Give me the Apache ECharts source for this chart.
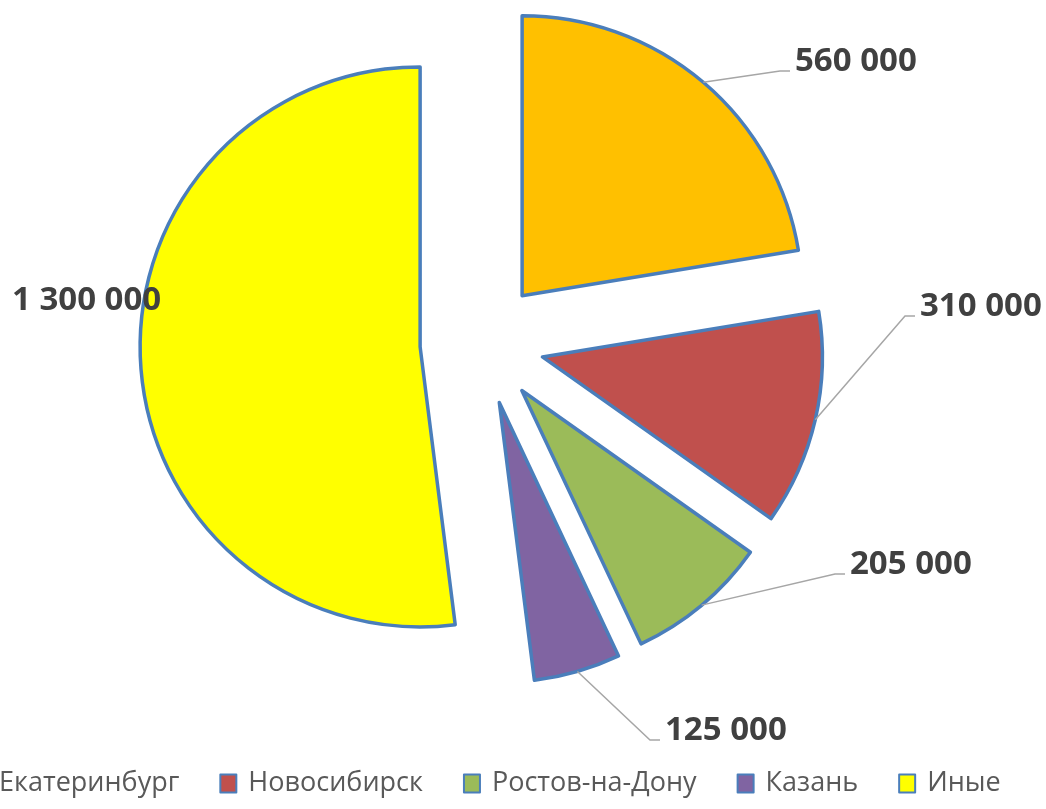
<!DOCTYPE html>
<html>
<head>
<meta charset="utf-8">
<script src="https://cdn.jsdelivr.net/npm/echarts@6.0.0/dist/echarts.min.js"></script>
<style>
html,body{margin:0;padding:0;background:#fff;}
#chart{width:1046px;height:809px;}
</style>
</head>
<body>
<div id="chart"></div>
<script>
const categories = ['Екатеринбург', 'Новосибирск', 'Ростов-на-Дону', 'Казань', 'Иные'];
const values = [560000, 310000, 205000, 125000, 1300000];
const colors = ['#FFC000', '#C0504D', '#9BBB59', '#8064A2', '#FFFF00'];

// layout settings
const pieCenter = [482, 343];
const pieRadius = 280;
const explode = 62;
// label anchor (text left x, text centre y) for each slice
const labelAnchors = [[795, 62], [920, 307], [850, 565], [665, 731], [12, 301]];

function fmt(v) {
  return String(v).replace(/\B(?=(\d{3})+(?!\d))/g, ' ');
}

const chart = echarts.init(document.getElementById('chart'), null, {renderer: 'canvas'});
chart.setOption({
  animation: false,
  backgroundColor: '#ffffff',
  color: colors,
  legend: {
    left: -35,
    top: 765,
    icon: 'rect',
    itemWidth: 16,
    itemHeight: 18,
    itemGap: 40,
    selectedMode: false,
    textStyle: {
      fontFamily: 'Open Sans',
      fontSize: 27,
      color: '#595959',
      padding: [0, 0, 0, 7]
    },
    data: categories
  },
  series: [{
    name: 'slices',
    type: 'pie',
    center: pieCenter,
    radius: [0, pieRadius],
    startAngle: 90,
    clockwise: true,
    selectedMode: 'multiple',
    selectedOffset: explode,
    emphasis: {disabled: true},
    silent: true,
    z: 2,
    itemStyle: {borderColor: '#4A7EBB', borderWidth: 3.5},
    select: {itemStyle: {borderColor: '#4A7EBB', borderWidth: 3.5}},
    label: {show: false},
    labelLine: {show: false},
    data: categories.map((c, i) => ({name: c, value: values[i], selected: true}))
  }, {
    name: 'labels',
    type: 'pie',
    center: pieCenter,
    radius: [0, pieRadius],
    startAngle: 90,
    clockwise: true,
    selectedMode: false,
    avoidLabelOverlap: false,
    emphasis: {disabled: true},
    silent: true,
    z: 3,
    itemStyle: {color: 'rgba(0,0,0,0)', borderWidth: 0},
    label: {
      show: true,
      position: 'outside',
      formatter: p => fmt(p.value),
      fontFamily: 'Open Sans',
      fontWeight: 'bold',
      fontSize: 33,
      color: '#404040'
    },
    labelLine: {
      show: true,
      length: 10,
      length2: 10,
      lineStyle: {color: '#A6A6A6', width: 1.5}
    },
    labelLayout: function (params) {
      const a = labelAnchors[params.dataIndex];
      const res = {x: a[0], y: a[1], align: 'left', verticalAlign: 'middle'};
      if (params.labelLinePoints) {
        const s = params.labelLinePoints[0];
        const dx = s[0] - pieCenter[0], dy = s[1] - pieCenter[1];
        const len = Math.sqrt(dx * dx + dy * dy) || 1;
        const start = [s[0] + explode * dx / len, s[1] + explode * dy / len];
        const end = [a[0] - 5, a[1] + 9];
        const mid = [end[0] - 10, end[1]];
        res.labelLinePoints = [start, mid, end];
      }
      return res;
    },
    data: categories.map((c, i) => ({
      name: c,
      value: values[i],
      labelLine: {show: i !== 4}
    }))
  }]
});
</script>
</body>
</html>
